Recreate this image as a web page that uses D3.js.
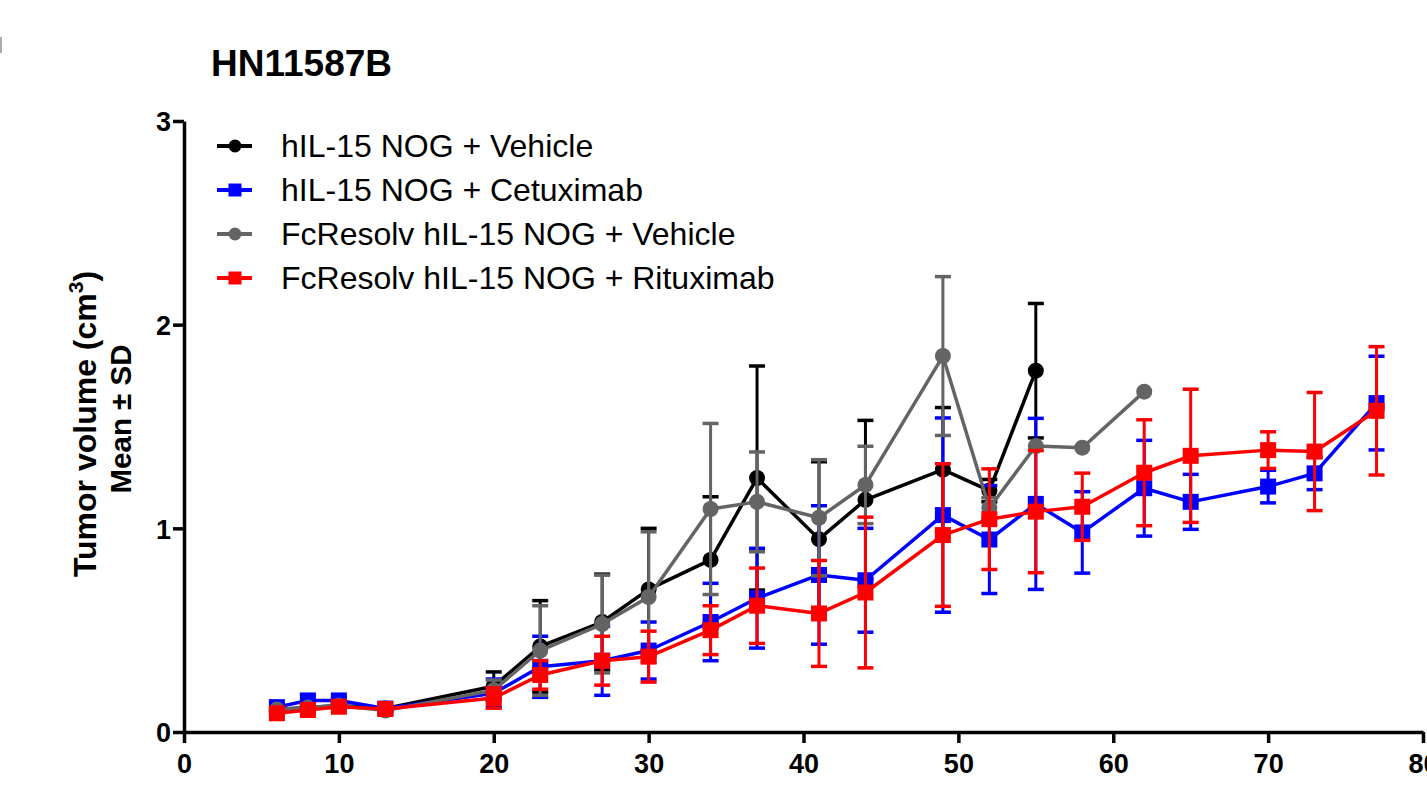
<!DOCTYPE html>
<html>
<head>
<meta charset="utf-8">
<script src="https://cdn.jsdelivr.net/npm/d3@7"></script>
<style>
  html, body { margin: 0; padding: 0; background: #fff; }
  svg { display: block; }
  text { font-family: "Liberation Sans", Arial, Helvetica, sans-serif; }
</style>
</head>
<body>
<svg id="chart" width="1427" height="793"></svg>
<script>
// ---------------- data ----------------
const titleText = "HN11587B";
const xTicks = [0, 10, 20, 30, 40, 50, 60, 70, 80];
const yTicks = [0, 1, 2, 3];

const days = [6, 8, 10, 13, 20, 23, 27, 30, 34, 37, 41, 44, 49, 52, 55, 58, 62, 65, 70, 73, 77];

const seriesNames = [
  "hIL-15 NOG + Vehicle",
  "hIL-15 NOG + Cetuximab",
  "FcResolv hIL-15 NOG + Vehicle",
  "FcResolv hIL-15 NOG + Rituximab"
];

const vehicleMean = [0.11, 0.12, 0.13, 0.115, 0.225, 0.42, 0.54, 0.70, 0.845, 1.247, 0.947, 1.14, 1.288, 1.185, 1.774];
const vehicleSD   = [0.01, 0.015, 0.01, 0.01, 0.07, 0.225, 0.235, 0.30, 0.31, 0.55, 0.38, 0.39, 0.305, 0.055, 0.33];

const cetuxMean = [0.122, 0.155, 0.155, 0.115, 0.19, 0.32, 0.35, 0.40, 0.54, 0.657, 0.771, 0.745, 1.065, 0.945, 1.12, 0.98, 1.197, 1.13, 1.205, 1.27, 1.615];
const cetuxSD   = [0.015, 0.025, 0.015, 0.01, 0.07, 0.15, 0.17, 0.14, 0.19, 0.245, 0.34, 0.255, 0.477, 0.265, 0.42, 0.20, 0.235, 0.135, 0.08, 0.08, 0.23];

const fcVehicleMean = [0.11, 0.12, 0.13, 0.105, 0.205, 0.40, 0.53, 0.663, 1.095, 1.13, 1.052, 1.213, 1.846, 1.10, 1.404, 1.396, 1.671];
const fcVehicleSD   = [0.01, 0.015, 0.01, 0.01, 0.05, 0.22, 0.24, 0.32, 0.42, 0.245, 0.285, 0.19, 0.39, 0.05, 0, 0, 0];

const rituxMean = [0.092, 0.108, 0.124, 0.113, 0.167, 0.28, 0.35, 0.37, 0.50, 0.62, 0.582, 0.685, 0.967, 1.045, 1.082, 1.106, 1.273, 1.356, 1.384, 1.377, 1.577];
const rituxSD   = [0.01, 0.01, 0.01, 0.01, 0.05, 0.07, 0.12, 0.125, 0.12, 0.185, 0.26, 0.37, 0.35, 0.247, 0.30, 0.165, 0.26, 0.327, 0.09, 0.29, 0.315];

const colors = ["#000000", "#0000ff", "#646464", "#ff0000"];
const shapes = ["circle", "square", "circle", "square"];

// ---------------- build ----------------
function build(mean, sd) {
  return mean.map((m, i) => ({ day: days[i], mean: m, sd: sd[i] }));
}
const series = [
  build(vehicleMean, vehicleSD),
  build(cetuxMean, cetuxSD),
  build(fcVehicleMean, fcVehicleSD),
  build(rituxMean, rituxSD)
];

const svg = d3.select("#chart");
const x = d3.scaleLinear().domain([0, 80]).range([184, 1423]);
const y = d3.scaleLinear().domain([0, 3]).range([732, 121]);

// small grey mark at top-left (clipped panel edge)
svg.append("rect").attr("x", 0).attr("y", 37).attr("width", 2).attr("height", 16).attr("fill", "#aaa");

// title
svg.append("text").attr("x", 211).attr("y", 76)
  .attr("font-size", 37).attr("font-weight", "bold").attr("fill", "#000")
  .text(titleText);

// axes
const xAxis = svg.append("g").attr("transform", `translate(0,${y(0)})`)
  .call(d3.axisBottom(x).tickValues(xTicks).tickSize(11).tickSizeOuter(0).tickFormat(d3.format("d")));
const yAxis = svg.append("g").attr("transform", `translate(${x(0)},0)`)
  .call(d3.axisLeft(y).tickValues(yTicks).tickSize(11).tickSizeOuter(0).tickFormat(d3.format("d")));

[xAxis, yAxis].forEach(g => {
  g.select(".domain").attr("stroke", "#000").attr("stroke-width", 3.5);
  g.selectAll(".tick line").attr("stroke", "#000").attr("stroke-width", 3.5);
  g.selectAll(".tick text").attr("font-family", "Liberation Sans, Arial, sans-serif")
    .attr("font-size", 27).attr("font-weight", "bold").attr("fill", "#000");
});
xAxis.selectAll(".tick text").attr("y", 22).attr("dy", "0.71em");
yAxis.selectAll(".tick text").attr("x", -13).attr("dy", "0.36em");

// y axis title
const yt = svg.append("text")
  .attr("transform", "translate(96,424) rotate(-90)")
  .attr("text-anchor", "middle").attr("font-size", 32).attr("font-weight", "bold").attr("fill", "#000");
yt.append("tspan").text("Tumor volume (cm");
yt.append("tspan").attr("font-size", 21).attr("dy", -13).text("3");
yt.append("tspan").attr("dy", 13).text(")");
svg.append("text")
  .attr("transform", "translate(131,419) rotate(-90)")
  .attr("text-anchor", "middle").attr("font-size", 29.5).attr("font-weight", "bold").attr("fill", "#000")
  .text("Mean \u00b1 SD");

// series
const line = d3.line().x(d => x(d.day)).y(d => y(d.mean));
const capW = 8;
series.forEach((data, si) => {
  const c = colors[si];
  const g = svg.append("g");
  const eb = g.selectAll("g.eb").data(data.filter(d => d.sd > 0)).join("g");
  eb.append("line")
    .attr("x1", d => x(d.day)).attr("x2", d => x(d.day))
    .attr("y1", d => y(d.mean - d.sd)).attr("y2", d => y(d.mean + d.sd))
    .attr("stroke", c).attr("stroke-width", 3);
  eb.append("line")
    .attr("x1", d => x(d.day) - capW).attr("x2", d => x(d.day) + capW)
    .attr("y1", d => y(d.mean + d.sd)).attr("y2", d => y(d.mean + d.sd))
    .attr("stroke", c).attr("stroke-width", 3.5);
  eb.append("line")
    .attr("x1", d => x(d.day) - capW).attr("x2", d => x(d.day) + capW)
    .attr("y1", d => y(d.mean - d.sd)).attr("y2", d => y(d.mean - d.sd))
    .attr("stroke", c).attr("stroke-width", 3.5);
  g.append("path").datum(data).attr("d", line)
    .attr("fill", "none").attr("stroke", c).attr("stroke-width", 3.5).attr("stroke-linejoin", "round");
  if (shapes[si] === "circle") {
    g.selectAll("circle.m").data(data).join("circle")
      .attr("cx", d => x(d.day)).attr("cy", d => y(d.mean)).attr("r", 8).attr("fill", c);
  } else {
    g.selectAll("rect.m").data(data).join("rect")
      .attr("x", d => x(d.day) - 8).attr("y", d => y(d.mean) - 8)
      .attr("width", 16).attr("height", 16).attr("fill", c);
  }
});

// legend
const legY = [146, 190, 234, 278];
seriesNames.forEach((name, i) => {
  const c = colors[i];
  const g = svg.append("g").attr("transform", `translate(0,${legY[i]})`);
  g.append("line").attr("x1", 217).attr("x2", 252).attr("y1", 0).attr("y2", 0)
    .attr("stroke", c).attr("stroke-width", 4);
  if (shapes[i] === "circle") {
    g.append("circle").attr("cx", 235).attr("cy", 0).attr("r", 6.5).attr("fill", c);
  } else {
    g.append("rect").attr("x", 228.5).attr("y", -6.5).attr("width", 13).attr("height", 13).attr("fill", c);
  }
  g.append("text").attr("x", 281).attr("y", 11).attr("font-size", 32).attr("fill", "#000").text(name);
});
</script>
</body>
</html>
